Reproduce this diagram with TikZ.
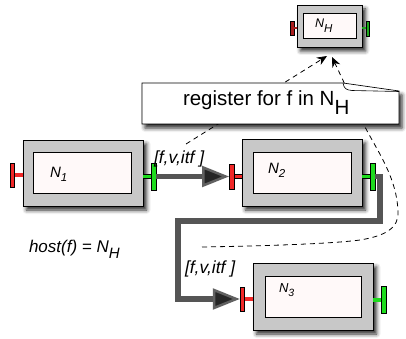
\documentclass[tikz,border=0pt]{standalone}
\usepackage{fontspec}
\setmainfont{Liberation Sans}
\usetikzlibrary{arrows.meta,shadows,shadows.blur,calc}
\definecolor{boxgray}{RGB}{200,200,200}
\definecolor{innerwhite}{RGB}{255,249,249}
\definecolor{tred}{RGB}{240,40,40}
\definecolor{tgreen}{RGB}{30,220,30}
\definecolor{hred}{RGB}{170,30,30}
\definecolor{hgreen}{RGB}{30,170,30}
\definecolor{pathgray}{RGB}{85,85,85}
\begin{document}
\begin{tikzpicture}[x=1pt,y=-1pt,
  outerbox/.style={draw=black,line width=0.7pt,fill=boxgray,inner sep=0pt,outer sep=0pt,
    blur shadow={shadow xshift=3.5pt,shadow yshift=-4pt,shadow blur radius=4pt,shadow opacity=85}},
  innerbox/.style={draw=black,line width=0.7pt,fill=innerwhite,inner sep=0pt,outer sep=0pt},
  bar/.style={draw=black,line width=0.5pt,inner sep=0pt,outer sep=0pt},
  stem/.style={draw=black,line width=0.5pt,double distance=3.8pt},
  lbl/.style={inner sep=0pt,outer sep=0pt,anchor=base west,font=\itshape\fontsize{17.5}{18}\selectfont},
  nlbl/.style={inner sep=0pt,outer sep=0pt,anchor=base west},
  thickpath/.style={draw=pathgray,line width=5.5pt,
    -{Triangle[length=27pt,width=21pt,line width=2.5pt,color=black!62,fill=black!85]}},
  dashline/.style={draw=black,line width=0.8pt,dash pattern=on 5pt off 4pt,
    -{Stealth[length=10pt,width=8.5pt]}}
]
\useasboundingbox (0,0) rectangle (406,339);

% boxes
\node[outerbox,minimum width=120pt,minimum height=66pt] (N1o) at (83,173) {};
\node[innerbox,minimum width=98pt,minimum height=41pt] (N1i) at (82,172.5) {};
\node[outerbox,minimum width=120pt,minimum height=67pt] (N2o) at (302,172.5) {};
\node[innerbox,minimum width=98pt,minimum height=41pt] (N2i) at (302,172.5) {};
\node[outerbox,minimum width=120pt,minimum height=67pt] (N3o) at (313,296.5) {};
\node[innerbox,minimum width=96pt,minimum height=41pt] (N3i) at (313,296.5) {};
\node[outerbox,minimum width=65pt,minimum height=42pt] (NHo) at (329.5,26) {};
\node[innerbox,minimum width=53pt,minimum height=25pt] (NHi) at (329.5,25.5) {};

% connector bars (positions)
\node[bar,fill=tred,minimum width=4.5pt,minimum height=24pt] (N1r) at (12,175) {};
\node[bar,fill=tgreen,minimum width=5pt,minimum height=27pt] (N1g) at (153.5,176.5) {};
\node[bar,fill=tred,minimum width=5pt,minimum height=25pt] (N2r) at (231.5,176.5) {};
\node[bar,fill=tgreen,minimum width=5pt,minimum height=27pt] (N2g) at (372.5,176.5) {};
\node[bar,fill=tred,minimum width=4.5pt,minimum height=24pt] (N3r) at (242,299) {};
\node[bar,fill=tgreen,minimum width=5pt,minimum height=27pt] (N3g) at (383.5,300) {};
\node[bar,fill=hred,minimum width=3.5pt,minimum height=14pt] (NHr) at (292,28) {};
\node[bar,fill=hgreen,minimum width=3.5pt,minimum height=15pt] (NHg) at (367.5,28.5) {};

% stems
\draw[stem,double=tred] (N1r.east) -- (N1r.east -| N1o.west);
\draw[stem,double=tgreen] (N1g.west) -- (N1g.west -| N1o.east);
\draw[stem,double=tred] (N2r.east) -- (N2r.east -| N2o.west);
\draw[stem,double=tgreen] (N2g.west) -- (N2g.west -| N2o.east);
\draw[stem,double=tred] (N3r.east) -- (N3r.east -| N3o.west);
\draw[stem,double=tgreen] (N3g.west) -- (N3g.west -| N3o.east);
\draw[draw=hred,line width=2pt] (NHr.east) -- (NHr.east -| NHo.west);
\draw[draw=hgreen,line width=2pt] (NHg.west) -- (NHg.west -| NHo.east);
\node[bar,fill=tred,minimum width=4.5pt,minimum height=24pt] at (N1r) {};
\node[bar,fill=tgreen,minimum width=5pt,minimum height=27pt] at (N1g) {};
\node[bar,fill=tred,minimum width=5pt,minimum height=25pt] at (N2r) {};
\node[bar,fill=tgreen,minimum width=5pt,minimum height=27pt] at (N2g) {};
\node[bar,fill=tred,minimum width=4.5pt,minimum height=24pt] at (N3r) {};
\node[bar,fill=tgreen,minimum width=5pt,minimum height=27pt] at (N3g) {};

% box labels
\node[nlbl,font=\itshape\fontsize{15}{15}\selectfont] (L1) at (50,177) {N\raisebox{-4.5pt}{\fontsize{11.5}{11.5}\selectfont 1}};
\node[nlbl,font=\itshape\fontsize{15}{15}\selectfont] (L2) at (268,173) {N\raisebox{-4.5pt}{\fontsize{11.5}{11.5}\selectfont 2}};
\node[nlbl,font=\itshape\fontsize{13}{13}\selectfont] (L3) at (279,292) {N\raisebox{-4pt}{\fontsize{10.5}{10.5}\selectfont 3}};
\node[nlbl,font=\itshape\fontsize{12.5}{12.5}\selectfont] (LH) at (315,28) {N\raisebox{-5pt}{\fontsize{11.5}{11.5}\selectfont H}};

% thick paths
\coordinate (b1) at (380,221);
\coordinate (b2) at (178,221);
\draw[thickpath] (N1g.east) -- (N2r.west);
\draw[thickpath] (N2g.east) -| (b1) -- (b2) |- (N3r.west);

% edge labels
\node[lbl] (f1) at (154,163) {[f,v,itf ]};
\node[lbl] (f2) at (185,273) {[f,v,itf ]};
\node[lbl,font=\itshape\fontsize{17}{18}\selectfont] (host) at (29,252) {host(f) = N\raisebox{-6pt}{\fontsize{15}{15}\selectfont H}};

% dashed lines
\coordinate (d1s) at (186,144);
\coordinate (d2s) at (202,247);
\coordinate (t1) at ($(NHo.south)+(-2.5,9)$);
\coordinate (t2) at ($(NHo.south)+(2.5,10)$);
\draw[dashline] (d1s) -- (t1);
\draw[dashline] (d2s) .. controls (260,246) and (330,244) .. (360,240)
   .. controls (385,236) and (399,228) .. (398,212)
   .. controls (397,178) and (378,152) .. (365,127) -- (t2);

% callout
\path[fill=white,draw=black,line width=0.7pt,
  blur shadow={shadow xshift=3pt,shadow yshift=-4pt,shadow blur radius=4pt,shadow opacity=85}]
  (142,83) -- (343,83) -- (399,91) -- (399,124) -- (142,124) -- cycle;
\draw[line width=0.6pt] (343,83) .. controls (344,88.5) and (346,90) .. (352,90.5) -- (399,91.5);
\node[nlbl,font=\fontsize{20.5}{24}\selectfont] (callout) at (183,106) {register for f in N\raisebox{-9pt}{H}};
\end{tikzpicture}
\end{document}
